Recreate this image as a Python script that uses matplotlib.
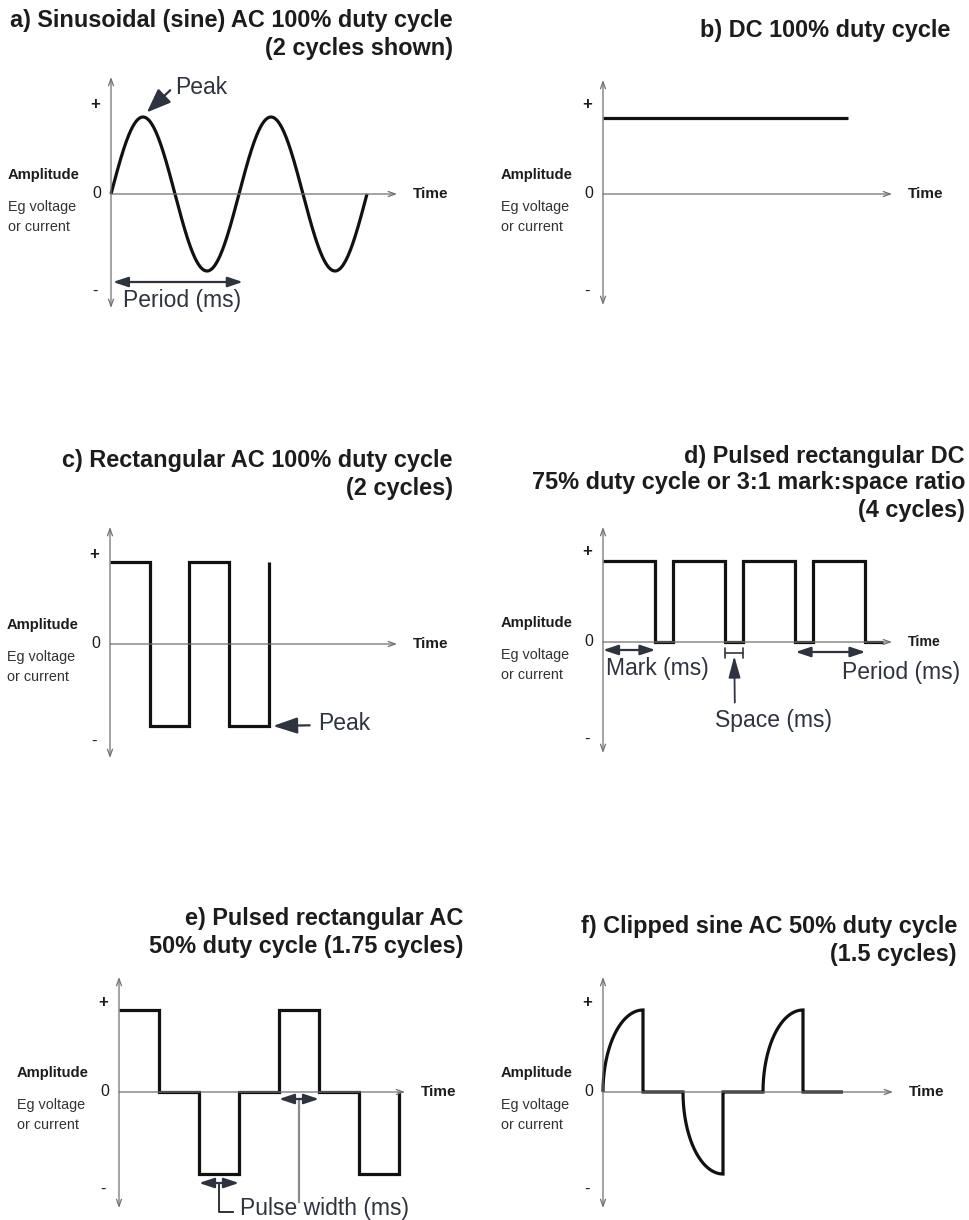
import numpy as np
import matplotlib
matplotlib.use("Agg")
import matplotlib.pyplot as plt

plt.rcParams['font.family'] = ['Liberation Sans', 'DejaVu Sans']

# ---------------- data ----------------
# a) sine AC
A_CYCLES = 2
A_PEAK = 1.0
# b) DC
B_LEVEL = 1.0
B_DURATION = 2.0
# c) rectangular AC (half-period levels), final edge level
C_LEVELS = [1, -1, 1, -1]
C_HALF = 0.5
C_END_LEVEL = 1
# d) pulsed rectangular DC, 3:1 mark:space
D_CYCLES = 4
D_MARK = 0.75
D_SPACE = 0.25
# e) pulsed rectangular AC, quarter-period levels, final level
E_LEVELS = [1, 0, -1, 0, 1, 0, -1]
E_STEP = 0.25
E_END_LEVEL = 0
# f) clipped sine, quarter-period segment signs
F_SIGNS = [1, 0, -1, 0, 1, 0]
F_STEP = 0.25

TITLES = {
    'a': ["a) Sinusoidal (sine) AC 100% duty cycle", "(2 cycles shown)"],
    'b': ["b) DC 100% duty cycle"],
    'c': ["c) Rectangular AC 100% duty cycle", "(2 cycles)"],
    'd': ["d) Pulsed rectangular DC", "75% duty cycle or 3:1 mark:space ratio", "(4 cycles)"],
    'e': ["e) Pulsed rectangular AC", "50% duty cycle (1.75 cycles)"],
    'f': ["f) Clipped sine AC 50% duty cycle", "(1.5 cycles)"],
}

# ---------------- layout ----------------
W, H = 970, 1220
fig = plt.figure(figsize=(W / 100, H / 100), dpi=100)

LINE_C = '#111111'
AXIS_C = '#707070'
TEXT_C = '#1c1c1c'
ANN_C = '#2e3340'
LW = 2.3

LAYOUT = {
    'a': dict(x0=111, y0=194, sx=128, sy=77, top=77, bot=308, xend=397, tr=453, ty=[21, 49]),
    'b': dict(x0=603, y0=194, sx=122.5, sy=76, top=80, bot=305, xend=892, tr=950, ty=[31]),
    'c': dict(x0=110, y0=644, sx=79.5, sy=82, top=527, bot=758, xend=397, tr=453, ty=[461, 488]),
    'd': dict(x0=603, y0=642, sx=70, sy=81, top=527, bot=753, xend=892, tr=965, ty=[456, 483, 511]),
    'e': dict(x0=119, y0=1092, sx=160, sy=82, top=977, bot=1208, xend=405, tr=463, ty=[918, 947]),
    'f': dict(x0=603, y0=1092, sx=160, sy=82, top=977, bot=1208, xend=893, tr=957, ty=[927, 954]),
}


def ftext(x, y, s, **kw):
    return fig.text(x / W, 1 - y / H, s, **kw)


axes = {}
for key, L in LAYOUT.items():
    ax = fig.add_axes([0, 0, 1, 1])
    ax.set_xlim((0 - L['x0']) / L['sx'], (W - L['x0']) / L['sx'])
    ax.set_ylim((L['y0'] - H) / L['sy'], (L['y0'] - 0) / L['sy'])
    ax.axis('off')
    ax.patch.set_visible(False)
    axes[key] = ax

    X = lambda px, L=L: (px - L['x0']) / L['sx']
    Y = lambda py, L=L: (L['y0'] - py) / L['sy']
    ax.annotate('', xy=(0, Y(L['top'])), xytext=(0, Y(L['bot'])),
                arrowprops=dict(arrowstyle='<->,head_length=0.5,head_width=0.18', lw=0.9,
                                color=AXIS_C, shrinkA=0, shrinkB=0))
    ax.annotate('', xy=(X(L['xend']), 0), xytext=(0, 0),
                arrowprops=dict(arrowstyle='->,head_length=0.5,head_width=0.18', lw=0.9,
                                color=AXIS_C, shrinkA=0, shrinkB=0))
    for line, yy in zip(TITLES[key], L['ty']):
        ftext(L['tr'], yy, line, ha='right', va='center', fontsize=16.9,
              fontweight='bold', color=TEXT_C)
    lx = L['x0'] - 103 if key in ('a', 'c') else L['x0'] - 102
    ftext(L['x0'] - 16, L['y0'] - 90, '+', ha='center', va='center', fontsize=12,
          fontweight='bold', color=TEXT_C)
    ftext(L['x0'] - 14, L['y0'], '0', ha='center', va='center', fontsize=11.5, color=TEXT_C)
    ftext(L['x0'] - 16, L['y0'] + 97, '-', ha='center', va='center', fontsize=12, color=TEXT_C)
    ftext(lx, L['y0'] - 19, 'Amplitude', ha='left', va='center', fontsize=10.6,
          fontweight='bold', color=TEXT_C)
    ftext(lx, L['y0'] + 13, 'Eg voltage', ha='left', va='center', fontsize=10.4, color='#333333')
    ftext(lx, L['y0'] + 33, 'or current', ha='left', va='center', fontsize=10.4, color='#333333')
    ftext(L['xend'] + 16, L['y0'], 'Time', ha='left', va='center',
          fontsize=10.2 if key == 'd' else 11, fontweight='bold', color=TEXT_C)


def step_path(levels, durations, end_level=None):
    xs, ys, t = [], [], 0.0
    for lev, d in zip(levels, durations):
        xs += [t, t + d]
        ys += [lev, lev]
        t += d
    if end_level is not None:
        xs.append(t)
        ys.append(end_level)
    return np.array(xs), np.array(ys)


wave_kw = dict(color=LINE_C, lw=LW, solid_joinstyle='miter', solid_capstyle='butt', clip_on=False)
arrow_kw = dict(color=ANN_C, lw=1.6, shrinkA=0, shrinkB=0)
ann_font = dict(fontsize=16.5, color=ANN_C)

# ---- a) sine ----
ax = axes['a']
L = LAYOUT['a']
Xa = lambda px: (px - L['x0']) / L['sx']
Ya = lambda py: (L['y0'] - py) / L['sy']
ta = np.linspace(0, A_CYCLES, 600)
ax.plot(ta, A_PEAK * np.sin(2 * np.pi * ta), **wave_kw)
ax.annotate('Peak', xy=(0.25 + 0.03, A_PEAK + 0.06), xytext=(Xa(175), Ya(88)),
            ha='left', va='center', **ann_font,
            arrowprops=dict(arrowstyle='-|>,head_length=0.9,head_width=0.35', relpos=(0, 0.6),
                            **{**arrow_kw, 'shrinkA': 2}))
ax.annotate('', xy=(0.015, Ya(282)), xytext=(1.03, Ya(282)),
            arrowprops=dict(arrowstyle='<|-|>,head_length=0.9,head_width=0.3', **arrow_kw))
ftext(123, 301, 'Period (ms)', ha='left', va='center', **ann_font)

# ---- b) DC ----
ax = axes['b']
ax.plot([0, B_DURATION], [B_LEVEL, B_LEVEL], **wave_kw)

# ---- c) rectangular AC ----
ax = axes['c']
L = LAYOUT['c']
Xc = lambda px: (px - L['x0']) / L['sx']
Yc = lambda py: (L['y0'] - py) / L['sy']
xc, yc = step_path(C_LEVELS, [C_HALF] * len(C_LEVELS), C_END_LEVEL)
ax.plot(xc, yc, **wave_kw)
ax.annotate('Peak', xy=(xc[-1] + 0.05, -1), xytext=(Xc(318), Yc(724)),
            ha='left', va='center', **ann_font,
            arrowprops=dict(arrowstyle='-|>,head_length=0.9,head_width=0.3', relpos=(0, 0.45),
                            **{**arrow_kw, 'shrinkA': 4}))

# ---- d) pulsed rectangular DC ----
ax = axes['d']
L = LAYOUT['d']
Xd = lambda px: (px - L['x0']) / L['sx']
Yd = lambda py: (L['y0'] - py) / L['sy']
xd, yd = step_path([1, 0] * D_CYCLES, [D_MARK, D_SPACE] * D_CYCLES)
ax.plot(xd, yd, **wave_kw)
ax.annotate('', xy=(0.0, Yd(650)), xytext=(D_MARK, Yd(650)),
            arrowprops=dict(arrowstyle='<|-|>,head_length=0.9,head_width=0.3', **arrow_kw))
ftext(606, 669, 'Mark (ms)', ha='left', va='center', **ann_font)
sp0 = D_MARK + (D_MARK + D_SPACE)
ax.annotate('', xy=(sp0, Yd(653)), xytext=(sp0 + D_SPACE, Yd(653)),
            arrowprops=dict(arrowstyle='|-|,widthA=0.35,widthB=0.35', color=ANN_C, lw=1.2,
                            shrinkA=0, shrinkB=0))
ax.annotate('Space (ms)', xy=(sp0 + D_SPACE / 2, Yd(656)), xytext=(Xd(715), Yd(721)),
            ha='left', va='center', **ann_font,
            arrowprops=dict(arrowstyle='-|>,head_length=0.8,head_width=0.22', relpos=(0.17, 1.0),
                            **{**arrow_kw, 'lw': 1.3, 'shrinkA': 3}))
p0 = 2 * (D_MARK + D_SPACE) + D_MARK
ax.annotate('', xy=(p0, Yd(652)), xytext=(p0 + D_MARK + D_SPACE, Yd(652)),
            arrowprops=dict(arrowstyle='<|-|>,head_length=0.9,head_width=0.3', **arrow_kw))
ftext(842, 673, 'Period (ms)', ha='left', va='center', **ann_font)

# ---- e) pulsed rectangular AC ----
ax = axes['e']
L = LAYOUT['e']
Xe = lambda px: (px - L['x0']) / L['sx']
Ye = lambda py: (L['y0'] - py) / L['sy']
xe, ye = step_path(E_LEVELS, [E_STEP] * len(E_LEVELS), E_END_LEVEL)
ax.plot(xe, ye, **wave_kw)
n0 = 2 * E_STEP
p1 = 4 * E_STEP
ax.plot([n0 + E_STEP / 2] * 2 + [Xe(233)], [Ye(1183), Ye(1212), Ye(1212)], color='#222222',
        lw=1.3, clip_on=False)
ax.plot([p1 + E_STEP / 2] * 2, [Ye(1099), Ye(1202)], color='#8a8a8a', lw=1.6, clip_on=False)
ax.annotate('', xy=(n0, Ye(1183)), xytext=(n0 + E_STEP, Ye(1183)),
            arrowprops=dict(arrowstyle='<|-|>,head_length=0.9,head_width=0.3', **arrow_kw))
ax.annotate('', xy=(p1, Ye(1099)), xytext=(p1 + E_STEP, Ye(1099)),
            arrowprops=dict(arrowstyle='<|-|>,head_length=0.9,head_width=0.3', **arrow_kw))
ftext(240, 1208, 'Pulse width (ms)', ha='left', va='center', **ann_font)

# ---- f) clipped sine (quarter-arc rise, then clipped back to zero) ----
ax = axes['f']
xs_f, ys_f = [], []
theta = np.linspace(0, np.pi / 2, 80)
for i, s in enumerate(F_SIGNS):
    xs_f.append(i * F_STEP + F_STEP * (1 - np.cos(theta)))
    ys_f.append(s * np.sin(theta))
ax.plot(np.concatenate(xs_f), np.concatenate(ys_f), **wave_kw)

fig.savefig('out.png', dpi=100)
